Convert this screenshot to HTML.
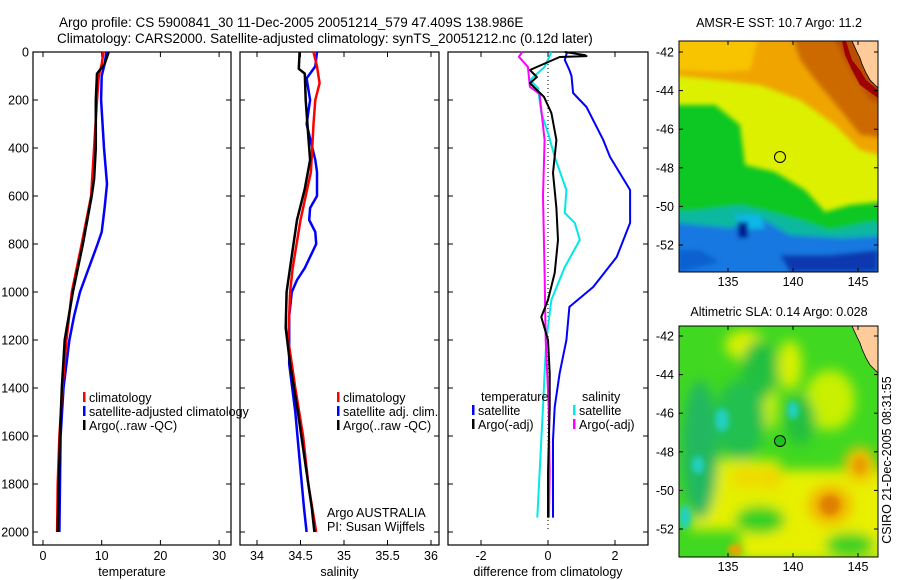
<!DOCTYPE html>
<html><head><meta charset="utf-8">
<style>
html,body{margin:0;padding:0;background:#fff;}
svg{display:block;font-family:"Liberation Sans",sans-serif;}
text{fill:#000;}
</style></head>
<body>
<svg id="fig" width="900" height="580" viewBox="0 0 900 580" xmlns="http://www.w3.org/2000/svg">
<defs>
<filter id="bl" x="-20%" y="-20%" width="140%" height="140%"><feGaussianBlur stdDeviation="6"/></filter>
<filter id="bl2" x="-20%" y="-20%" width="140%" height="140%"><feGaussianBlur stdDeviation="3"/></filter>
<filter id="bl3" x="-10%" y="-10%" width="120%" height="120%"><feGaussianBlur stdDeviation="2.5"/></filter>
<clipPath id="c1"><rect x="679" y="41" width="199" height="231"/></clipPath>
<clipPath id="c2"><rect x="679" y="326" width="199" height="231"/></clipPath>
</defs>
<text x="59" y="27" font-size="13.5">Argo profile: CS 5900841_30 11-Dec-2005 20051214_579 47.409S 138.986E</text>
<text x="57" y="43" font-size="13.5">Climatology: CARS2000. Satellite-adjusted climatology: synTS_20051212.nc (0.12d later)</text>

<!-- SST map -->
<g clip-path="url(#c1)">
<rect x="679" y="41" width="199" height="231" fill="#dcf000"/>
<g filter="url(#bl3)">
<rect x="670" y="30" width="220" height="10" fill="#f0a000"/>
<polygon points="670,30 900,30 900,160 860,150 835,125 800,100 760,85 720,80 670,75" fill="#f0a400"/>
<polygon points="670,30 760,30 750,70 720,72 670,70" fill="#f8c400"/>
<polygon points="790,30 900,30 900,140 860,135 840,110 815,80 800,60" fill="#cc6a00"/>
<polygon points="830,30 900,30 900,110 870,100 850,70" fill="#b85000"/>
<polygon points="670,105 715,105 740,125 745,165 775,172 805,190 825,212 850,205 900,200 900,290 670,290" fill="#10c820"/>
<polygon points="670,212 700,210 740,205 770,212 800,220 830,230 870,222 900,222 900,290 670,290" fill="#10b8a0"/>
<polygon points="670,222 730,228 760,218 790,235 840,238 900,235 900,290 670,290" fill="#1878e0"/>
<polygon points="735,215 760,215 765,228 740,230" fill="#10b8e8"/>
<rect x="738" y="222" width="10" height="16" fill="#001890"/>
<polygon points="780,255 830,255 878,250 878,272 790,272" fill="#0838b0"/>
<polygon points="679,250 700,250 720,262 679,272" fill="#1060d0"/>
</g>
<polygon points="846,41 852,60 860,70 866,80 878,90 878,98 860,85 852,70 845,55 842,41" fill="#a00000"/>
<polygon points="852,41 857,52 860,58 862,64 866,73 870,80 875,85 878,88 878,41" fill="#ffcc99" stroke="#000" stroke-width="0.8"/>
<circle cx="780" cy="157" r="5.5" fill="none" stroke="#000" stroke-width="1"/>
</g>
<rect x="679" y="41" width="199" height="231" fill="none" stroke="#000" stroke-width="1"/>
<text x="779" y="27" font-size="12.5" text-anchor="middle">AMSR-E SST: 10.7 Argo: 11.2</text>

<!-- SLA map -->
<g clip-path="url(#c2)">
<rect x="679" y="326" width="199" height="231" fill="#40d820"/>
<g filter="url(#bl)">
<rect x="740" y="470" width="150" height="90" fill="#e8f000"/>
<rect x="690" y="460" width="90" height="70" fill="#e4f000"/>
<ellipse cx="745" cy="345" rx="20" ry="15" fill="#d8f000"/>
<ellipse cx="790" cy="365" rx="12" ry="25" fill="#d8f000"/>
<ellipse cx="830" cy="400" rx="25" ry="30" fill="#c8f000"/>
<ellipse cx="770" cy="400" rx="8" ry="30" fill="#c8f000"/>
<ellipse cx="760" cy="370" rx="18" ry="30" fill="#20c040"/>
<ellipse cx="740" cy="420" rx="25" ry="40" fill="#20c050"/>
<ellipse cx="700" cy="450" rx="18" ry="70" fill="#20b860"/>
<ellipse cx="800" cy="420" rx="15" ry="25" fill="#20c040"/>
<ellipse cx="760" cy="520" rx="25" ry="14" fill="#30d020"/>
<ellipse cx="850" cy="545" rx="25" ry="12" fill="#30d020"/>
<ellipse cx="830" cy="505" rx="22" ry="20" fill="#f0b000"/>
<ellipse cx="860" cy="465" rx="16" ry="18" fill="#f0c000"/>
<ellipse cx="745" cy="478" rx="14" ry="10" fill="#f0d800"/>
<ellipse cx="770" cy="478" rx="14" ry="12" fill="#f0d800"/>
</g>
<g filter="url(#bl2)">
<ellipse cx="722" cy="420" rx="7" ry="12" fill="#20d0c0"/>
<ellipse cx="793" cy="410" rx="6" ry="9" fill="#20d0c0"/>
<ellipse cx="698" cy="465" rx="6" ry="9" fill="#20d0c0"/>
<ellipse cx="685" cy="517" rx="6" ry="12" fill="#20d0c0"/>
<ellipse cx="830" cy="505" rx="10" ry="10" fill="#e08000"/>
<ellipse cx="860" cy="465" rx="7" ry="9" fill="#e8a000"/>
<ellipse cx="735" cy="550" rx="7" ry="6" fill="#f0a000"/>
</g>
<polygon points="852,326 857,337 860,343 862,349 866,358 870,365 875,370 878,373 878,326" fill="#ffcc99" stroke="#000" stroke-width="0.8"/>
<circle cx="780" cy="441" r="5.5" fill="#20c020" stroke="#000" stroke-width="1"/>
</g>
<rect x="679" y="326" width="199" height="231" fill="none" stroke="#000" stroke-width="1"/>
<text x="779" y="316" font-size="12.5" text-anchor="middle">Altimetric SLA: 0.14 Argo: 0.028</text>
<text transform="translate(891,460) rotate(-90)" font-size="12.5" text-anchor="middle">CSIRO 21-Dec-2005 08:31:55</text>

<g id="plots"></g>
</svg>
<script>
// ---- data ----
const tempDepth = [0,50,90,200,400,530,600,800,1000,1200,1400,1600,1800,2000];
const tempArgo  = [11.2,10.5,9.2,9.0,9.0,8.7,8.3,6.8,5.1,3.7,3.2,2.9,2.7,2.5];
const climDepth = [0,50,100,200,400,600,800,1000,1200,1400,1600,1800,2000];
const tempClim  = [10.3,10.0,9.5,9.2,8.7,8.2,6.6,4.9,4.0,3.3,2.8,2.5,2.4];
const satDepth  = [0,50,100,200,400,550,650,750,800,900,1000,1100,1200,1400,1600,1800,2000];
const tempSat   = [10.8,10.5,10.0,9.9,10.4,10.9,10.5,10.0,9.3,7.8,6.3,5.3,4.5,3.5,3.0,2.9,2.8];

const salArgoDepth = [0,70,90,200,350,450,570,700,800,1000,1150,1300,1500,1700,1900,2000];
const salArgo      = [34.49,34.48,34.55,34.56,34.59,34.61,34.55,34.46,34.42,34.34,34.33,34.38,34.47,34.55,34.63,34.66];
const salClimDepth = [0,60,130,200,300,500,700,900,1000,1200,1400,1600,1800,2000];
const salClim      = [34.65,34.69,34.72,34.67,34.65,34.62,34.5,34.41,34.38,34.36,34.44,34.53,34.59,34.68];
const salSatDepth  = [0,60,110,200,300,450,500,600,650,700,750,800,900,950,1000,1100,1300,1500,1700,1900,2000];
const salSat       = [34.69,34.67,34.57,34.61,34.57,34.67,34.69,34.69,34.61,34.6,34.67,34.68,34.55,34.46,34.4,34.37,34.37,34.44,34.49,34.54,34.57];

const dTSatDepth = [0,33,75,100,171,229,367,437,575,712,854,979,1062,1200,1337,1479,1617,1940];
const dTSat      = [0.57,0.5,0.64,0.7,0.75,1.15,1.65,1.85,2.45,2.45,2.05,1.35,0.64,0.55,0.35,0.2,0.15,0.15];
const dTArgoDepth = [0,13,17,21,75,104,130,187,254,367,504,650,783,921,1033,1104,1200,1337,1479,1754,1940];
const dTArgo      = [0.5,1.1,1.15,0.35,-0.54,-0.33,-0.54,-0.12,0.1,0.25,0.15,0.25,0.3,0.2,0,-0.2,0,0.05,0.05,0,0];
const dSSatDepth = [0,62,117,150,254,337,437,575,671,712,783,896,1033,1200,1337,1479,1754,1940];
const dSSat      = [0.1,-0.1,-0.54,-0.3,-0.2,0,0.2,0.55,0.5,0.8,0.95,0.5,0.1,-0.05,-0.1,-0.15,-0.25,-0.32];
const dSArgoDepth = [0,20,62,145,175,367,600,921,1200,1479,1754,1940];
const dSArgo      = [-0.77,-0.87,-0.6,-0.54,-0.25,-0.1,-0.15,-0.1,-0.07,0.02,0.05,0.03];

const depthTicks = [0,200,400,600,800,1000,1200,1400,1600,1800,2000];
const tempTicks = [0,10,20,30];
const salTicks = [34,34.5,35,35.5,36];
const diffTicks = [-2,0,2];
const lonTicks = [135,140,145];
const latTicks = [-42,-44,-46,-48,-50,-52];

// ---- helpers ----
const NS='http://www.w3.org/2000/svg';
const root=document.getElementById('plots');
function mk(tag,attrs,parent){const e=document.createElementNS(NS,tag);for(const k in attrs)e.setAttribute(k,attrs[k]);(parent||root).appendChild(e);return e;}
const Y0=52, PY=0.24, BOT=545;
function yD(d){return Y0+d*PY;}
function mkX(v0,px0,scale){return v=>px0+(v-v0)*scale;}

const panels=[
 {name:'temperature-panel',L:33,R:231,x:mkX(0,43,5.87),ticks:tempTicks,label:'temperature',labels:true},
 {name:'salinity-panel',L:240,R:439,x:mkX(34,257,87),ticks:salTicks,label:'salinity',labels:false},
 {name:'difference-panel',L:448,R:648,x:mkX(0,548,33.5),ticks:diffTicks,label:'difference from climatology',labels:false}
];
panels.forEach(p=>{
  const g=mk('g',{});
  
  
  const fr=mk('rect',{x:p.L,y:Y0,width:p.R-p.L,height:BOT-Y0,fill:'none',stroke:'#000','stroke-width':1.2},g);
  
  
  depthTicks.forEach(d=>{
    const y=yD(d);
    mk('line',{x1:p.L,x2:p.L+5,y1:y,y2:y,stroke:'#000'},g);
    mk('line',{x1:p.R-5,x2:p.R,y1:y,y2:y,stroke:'#000'},g);
    if(p.labels){const t=mk('text',{x:p.L-4,y:y+4.5,'font-size':12.5,'text-anchor':'end'},g);t.textContent=d;
      
      }
  });
  p.ticks.forEach(v=>{
    const x=p.x(v);
    mk('line',{x1:x,x2:x,y1:Y0,y2:Y0+5,stroke:'#000'},g);
    mk('line',{x1:x,x2:x,y1:BOT-5,y2:BOT,stroke:'#000'},g);
    const t=mk('text',{x:x,y:560,'font-size':12.5,'text-anchor':'middle'},g);t.textContent=v;
    
    
  });
  const xl=mk('text',{x:(p.L+p.R)/2,y:576,'font-size':12.5,'text-anchor':'middle'},g);xl.textContent=p.label;
  
  
});
const zl=mk('line',{x1:panels[2].x(0),x2:panels[2].x(0),y1:Y0,y2:BOT-13,stroke:'#000','stroke-dasharray':'1,3','stroke-width':1});



function series(p,depths,vals,color,w,name){
  const pts=depths.map((d,i)=>p.x(vals[i]).toFixed(1)+','+yD(d).toFixed(1)).join(' ');
  const l=mk('polyline',{points:pts,fill:'none',stroke:color,'stroke-width':w,'stroke-linejoin':'round'});
  
  
}
const P1=panels[0],P2=panels[1],P3=panels[2];
series(P1,satDepth,tempSat,'#0000ff',2.5,'temp-satellite-line');
series(P1,climDepth,tempClim,'#ff0000',2.5,'temp-climatology-line');
series(P1,tempDepth,tempArgo,'#000',2.5,'temp-argo-line');
series(P2,salSatDepth,salSat,'#0000ff',2.5,'sal-satellite-line');
series(P2,salClimDepth,salClim,'#ff0000',2.5,'sal-climatology-line');
series(P2,salArgoDepth,salArgo,'#000',2.5,'sal-argo-line');
series(P3,dTSatDepth,dTSat,'#0000ff',2,'diff-temp-satellite-line');
series(P3,dSSatDepth,dSSat,'#00e8e8',2,'diff-sal-satellite-line');
series(P3,dSArgoDepth,dSArgo,'#ff00ff',2,'diff-sal-argo-line');
series(P3,dTArgoDepth,dTArgo,'#000',2,'diff-temp-argo-line');

function legend(x,y,color,label,name){
  const g=mk('g',{});
  
  
  if(color) mk('rect',{x:x,y:y-10,width:2.5,height:10,fill:color},g);
  const t=mk('text',{x:x+6,y:y,'font-size':12.5},g);t.textContent=label;
}
legend(83,402,'#ff0000','climatology','legend-climatology');
legend(83,416,'#0000ff','satellite-adjusted climatology','legend-satellite-adjusted');
legend(83,430,'#000','Argo(..raw -QC)','legend-argo');
legend(337,402,'#ff0000','climatology','legend-sal-climatology');
legend(337,416,'#0000ff','satellite adj. clim.','legend-sal-satellite');
legend(337,430,'#000','Argo(..raw -QC)','legend-sal-argo');
legend(475,401,null,'temperature','legend-temperature-heading');
legend(472,415,'#0000ff','satellite','legend-dtemp-satellite');
legend(472,429,'#000','Argo(-adj)','legend-dtemp-argo');
legend(576,401,null,'salinity','legend-salinity-heading');
legend(573,415,'#00e8e8','satellite','legend-dsal-satellite');
legend(573,429,'#ff00ff','Argo(-adj)','legend-dsal-argo');
const a1=mk('text',{x:327,y:517,'font-size':12.5});a1.textContent='Argo AUSTRALIA';


const a2=mk('text',{x:327,y:531,'font-size':12.5});a2.textContent='PI: Susan Wijffels';



function mapAxes(top,latY0,labY){
  const lonX=l=>728+(l-135)*13;
  const latY=l=>latY0+(-42-l)*19.3;
  lonTicks.forEach(l=>{
    const x=lonX(l);
    mk('line',{x1:x,x2:x,y1:top,y2:top+4,stroke:'#000'});
    mk('line',{x1:x,x2:x,y1:top+227,y2:top+231,stroke:'#000'});
    const t=mk('text',{x:x,y:labY,'font-size':12.5,'text-anchor':'middle'});t.textContent=l;
    
    
  });
  latTicks.forEach(l=>{
    const y=latY(l);
    mk('line',{x1:679,x2:683,y1:y,y2:y,stroke:'#000'});
    mk('line',{x1:874,x2:878,y1:y,y2:y,stroke:'#000'});
    const t=mk('text',{x:674,y:y+4.5,'font-size':12.5,'text-anchor':'end'});t.textContent=l;
    
    
  });
}
mapAxes(41,52,286);
mapAxes(326,336,571);
</script>
</body></html>
